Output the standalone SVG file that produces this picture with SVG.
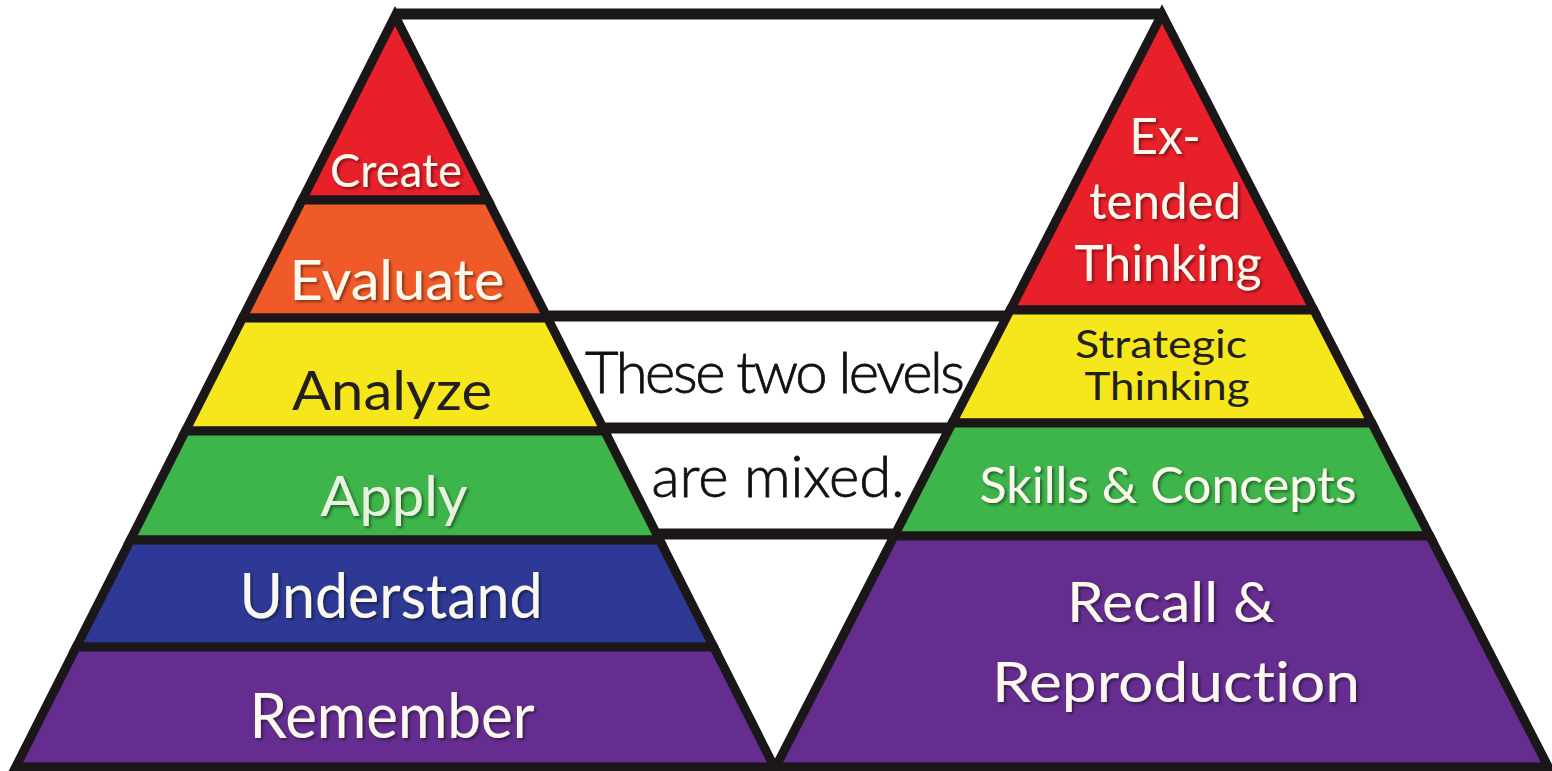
<svg xmlns="http://www.w3.org/2000/svg" width="1552" height="771" viewBox="0 0 1552 771">
  <defs>
    <filter id="shadow" x="-10%" y="-20%" width="120%" height="150%">
      <feDropShadow dx="2" dy="2" stdDeviation="1.5" flood-color="#000" flood-opacity="0.45"/>
    </filter>
  </defs>
  <style>
    .band { stroke: #1b1718; stroke-width: 9; stroke-linejoin: miter; }
    .bar { stroke: #1b1718; stroke-width: 11; fill: none; }
    text { font-variant-ligatures: none; }
    .lbl { font-family: "Lato", "Open Sans", sans-serif; text-anchor: middle; fill: #fbf8ee; filter: url(#shadow); }
    .dark { fill: #231f20; filter: none; }
    .hand { font-family: "Lato", "DejaVu Sans", sans-serif; font-weight: 300; text-anchor: middle; fill: #111; stroke: #111; stroke-width: 0.8; }
    .red { fill: #e8202a; }
    .orange { fill: #f05a28; }
    .yellow { fill: #f6e71c; }
    .green { fill: #3db54a; }
    .blue { fill: #2e3995; }
    .purple { fill: #652d90; }
  </style>

  <rect width="1552" height="771" fill="#ffffff"/>

  <!-- frame joining the two pyramids -->
  <g id="connectors">
    <line class="bar" x1="395" y1="14" x2="1162" y2="14"/>
    <line class="bar" x1="546" y1="316" x2="1007" y2="316"/>
    <line class="bar" x1="603" y1="428" x2="950" y2="428"/>
    <line class="bar" x1="656" y1="534" x2="895" y2="534"/>
  </g>

  <!-- left pyramid -->
  <g id="create">
    <polygon class="band red" points="395,16 487.9,200 302.1,200"/>
    <text class="lbl" x="396" y="187" font-size="46" textLength="132" lengthAdjust="spacingAndGlyphs">Create</text>
  </g>
  <g id="evaluate">
    <polygon class="band orange" points="302.1,200 487.9,200 547.5,318 242.5,318"/>
    <text class="lbl" x="397" y="300" font-size="56" textLength="215" lengthAdjust="spacingAndGlyphs">Evaluate</text>
  </g>
  <g id="analyze">
    <polygon class="band yellow" points="242.5,318 547.5,318 604.6,431 185.4,431"/>
    <text class="lbl dark" x="392" y="410" font-size="54" textLength="200" lengthAdjust="spacingAndGlyphs">Analyze</text>
  </g>
  <g id="apply">
    <polygon class="band green" points="185.4,431 604.6,431 659.6,540 130.4,540"/>
    <text class="lbl" x="394" y="516" font-size="56" textLength="147" lengthAdjust="spacingAndGlyphs" style="fill:#e9f2df">Apply</text>
  </g>
  <g id="understand">
    <polygon class="band blue" points="130.4,540 659.6,540 713.7,647 76.3,647"/>
    <text class="lbl" x="391" y="618" font-size="62" textLength="303" lengthAdjust="spacingAndGlyphs">Understand</text>
  </g>
  <g id="remember">
    <polygon class="band purple" points="76.3,647 713.7,647 774.3,767 15.7,767"/>
    <text class="lbl" x="392" y="738" font-size="62" textLength="285" lengthAdjust="spacingAndGlyphs">Remember</text>
  </g>

  <!-- right pyramid -->
  <g id="extended-thinking">
    <polygon class="band red" points="1162,14 1313.8,310 1010.2,310"/>
    <text class="lbl" x="1165" y="154" font-size="50">Ex-</text>
    <text class="lbl" x="1165" y="219" font-size="50" textLength="152" lengthAdjust="spacingAndGlyphs">tended</text>
    <text class="lbl" x="1168" y="281" font-size="50" textLength="187" lengthAdjust="spacingAndGlyphs">Thinking</text>
  </g>
  <g id="strategic-thinking">
    <polygon class="band yellow" points="1010.2,310 1313.8,310 1371.8,423 952.2,423"/>
    <text class="lbl dark" x="1161" y="358" font-size="38" textLength="172" lengthAdjust="spacingAndGlyphs">Strategic</text>
    <text class="lbl dark" x="1167" y="400" font-size="38" textLength="165" lengthAdjust="spacingAndGlyphs">Thinking</text>
  </g>
  <g id="skills-concepts">
    <polygon class="band green" points="952.2,423 1371.8,423 1429.8,536 894.2,536"/>
    <text class="lbl" x="1168" y="503" font-size="50" textLength="377" lengthAdjust="spacingAndGlyphs">Skills &amp; Concepts</text>
  </g>
  <g id="recall-reproduction">
    <polygon class="band purple" points="894.2,536 1429.8,536 1548.3,767 775.7,767"/>
    <text class="lbl" x="1171" y="622" font-size="56" textLength="208" lengthAdjust="spacingAndGlyphs">Recall &amp;</text>
    <text class="lbl" x="1176" y="702" font-size="56" textLength="368" lengthAdjust="spacingAndGlyphs">Reproduction</text>
  </g>

  <!-- note in the gap between the pyramids -->
  <g id="note">
    <text class="hand" x="775" y="393" font-size="58" textLength="380" lengthAdjust="spacing">These two levels</text>
    <text class="hand" x="778" y="497" font-size="58" textLength="253" lengthAdjust="spacing">are mixed.</text>
  </g>
</svg>
